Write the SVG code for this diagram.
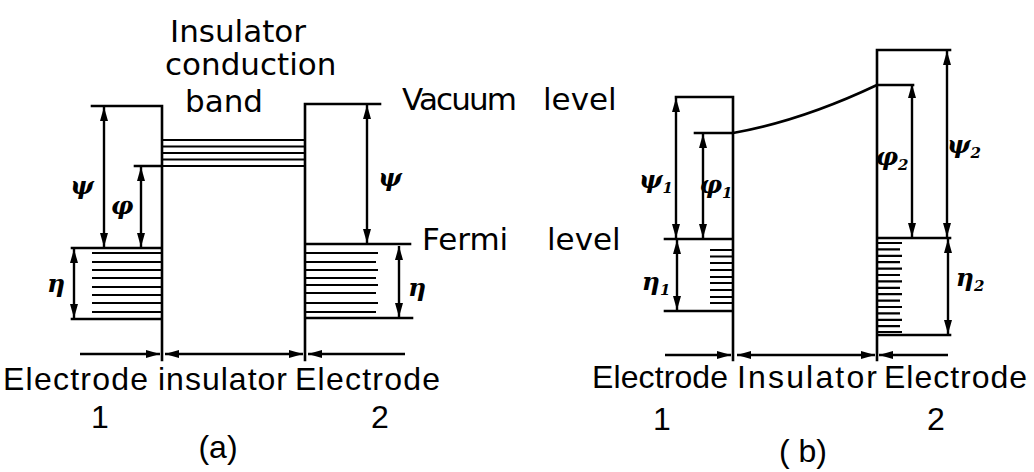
<svg xmlns="http://www.w3.org/2000/svg" width="1034" height="472" viewBox="0 0 1034 472">
<style>
.ln{stroke:#000;stroke-width:2.6;fill:none;stroke-linecap:square}
.h{stroke:#000;stroke-width:2.2;fill:none}
.ar{stroke:#000;stroke-width:2.4;fill:none;marker-start:url(#ah);marker-end:url(#ah)}
.ae{stroke:#000;stroke-width:2.4;fill:none;marker-end:url(#ah)}
.t{font-family:"DejaVu Sans",sans-serif;font-size:31px;fill:#000}
.b{font-family:"Liberation Sans",sans-serif;font-size:32px;fill:#000}
.g{font-family:"DejaVu Serif",serif;font-style:italic;font-weight:bold;font-size:25px;fill:#000}
.s{font-size:15px}
</style>
<defs>
<marker id="ah" viewBox="0 0 14 8" refX="14" refY="4" markerWidth="14" markerHeight="8" markerUnits="userSpaceOnUse" orient="auto-start-reverse"><path d="M0,0 L14,4 L0,8 z" fill="#000"/></marker>
</defs>

<!-- Panel (a) -->
<g id="a-electrode1">
<path class="ln" d="M92,106 H162 M162,106 V360 M135,166 H162 M72,248 H162 M72,319 H162"/>
<path class="h" d="M92,253 H162 M92,262 H162 M92,270 H162 M92,278 H162 M92,287 H162 M92,295 H162 M92,303 H162 M92,312 H162"/>
<path class="ar" d="M104,107 V247"/>
<path class="ar" d="M141,167 V247"/>
<path class="ar" d="M74,249 V318"/>
<text class="g" x="82" y="194" text-anchor="middle">ψ</text>
<text class="g" x="122" y="214" text-anchor="middle">φ</text>
<text class="g" x="56" y="292" text-anchor="middle">η</text>
</g>
<g id="a-insulator">
<path class="h" d="M162,140 H305 M162,146.5 H305 M162,153 H305 M162,159.5 H305 M162,166 H305"/>
<text class="t" x="170" y="42">Insulator</text>
<text class="t" x="165" y="75">conduction</text>
<text class="t" x="185" y="112">band</text>
</g>
<g id="a-electrode2">
<path class="ln" d="M305,104 H380 M305,104 V360 M305,244 H410 M305,318 H412"/>
<path class="h" d="M305,253 H378 M305,262 H376 M305,270 H378 M305,278 H376 M305,285 H378 M305,293 H376 M305,303 H378 M305,312 H376"/>
<path class="ar" d="M367,105 V243"/>
<path class="ar" d="M399,246 V317"/>
<text class="g" x="390" y="186" text-anchor="middle">ψ</text>
<text class="g" x="417" y="296" text-anchor="middle">η</text>
</g>
<g id="a-levels">
<text class="t" x="402" y="110" textLength="115">Vacuum</text>
<text class="t" x="543" y="110">level</text>
<text class="t" x="422" y="250">Fermi</text>
<text class="t" x="547" y="250">level</text>
</g>
<g id="a-connectors">
<path class="ae" d="M80,354 H160"/>
<path class="ar" d="M165,354 H303"/>
<path class="ae" d="M405,354 H308"/>
</g>
<g id="a-labels">
<text class="b" x="3" y="390" textLength="145">Electrode</text>
<text class="b" x="158" y="390" textLength="129">insulator</text>
<text class="b" x="295" y="390" textLength="145">Electrode</text>
<text class="b" x="100" y="428" text-anchor="middle">1</text>
<text class="b" x="380" y="428" text-anchor="middle">2</text>
<text class="b" x="218" y="458" text-anchor="middle">(a)</text>
</g>

<!-- Panel (b) -->
<g id="b-electrode1">
<path class="ln" d="M676,97 H733 M733,97 V360 M695,133 H733 M665,239 H733 M665,311 H733"/>
<path class="h" d="M710,250 H733 M710,256.5 H733 M710,263 H733 M710,270 H733 M710,277 H733 M710,283 H733 M710,290 H733 M710,297 H733 M710,303 H733"/>
<path class="ar" d="M676,98 V238"/>
<path class="ar" d="M703,134 V238"/>
<path class="ar" d="M677,240 V310"/>
<text class="g" x="656" y="188" text-anchor="middle">ψ<tspan class="s" dy="5">1</tspan></text>
<text class="g" x="716" y="193" text-anchor="middle">φ<tspan class="s" dy="5">1</tspan></text>
<text class="g" x="656" y="290" text-anchor="middle">η<tspan class="s" dy="5">1</tspan></text>
</g>
<g id="b-curve">
<path class="ln" d="M733,133 Q801,121 877,85 H913"/>
</g>
<g id="b-electrode2">
<path class="ln" d="M877,50 H950 M877,50 V360 M877,238 H950 M877,335 H950"/>
<path class="h" d="M877,243 H902 M877,249.4 H900 M877,255.8 H902 M877,262.2 H900 M877,268.6 H902 M877,275 H900 M877,281.4 H902 M877,287.8 H900 M877,294.2 H902 M877,300.6 H900 M877,307 H902 M877,313.4 H900 M877,319.8 H902 M877,326.2 H900 M877,332 H902"/>
<path class="ar" d="M912,84 V237"/>
<path class="ar" d="M947,51 V237"/>
<path class="ar" d="M948,239 V334"/>
<text class="g" x="892" y="165" text-anchor="middle">φ<tspan class="s" dy="5">2</tspan></text>
<text class="g" x="964" y="153" text-anchor="middle">ψ<tspan class="s" dy="5">2</tspan></text>
<text class="g" x="970" y="286" text-anchor="middle">η<tspan class="s" dy="5">2</tspan></text>
</g>
<g id="b-connectors">
<path class="ae" d="M665,355 H731"/>
<path class="ar" d="M737,355 H875"/>
<path class="ae" d="M948,355 H879"/>
</g>
<g id="b-labels">
<text class="b" x="592" y="388" textLength="136">Electrode</text>
<text class="b" x="737" y="388" textLength="140">Insulator</text>
<text class="b" x="884" y="388" textLength="143">Electrode</text>
<text class="b" x="662" y="430" text-anchor="middle">1</text>
<text class="b" x="936" y="430" text-anchor="middle">2</text>
<text class="b" x="803" y="462" text-anchor="middle">( b)</text>
</g>
</svg>
